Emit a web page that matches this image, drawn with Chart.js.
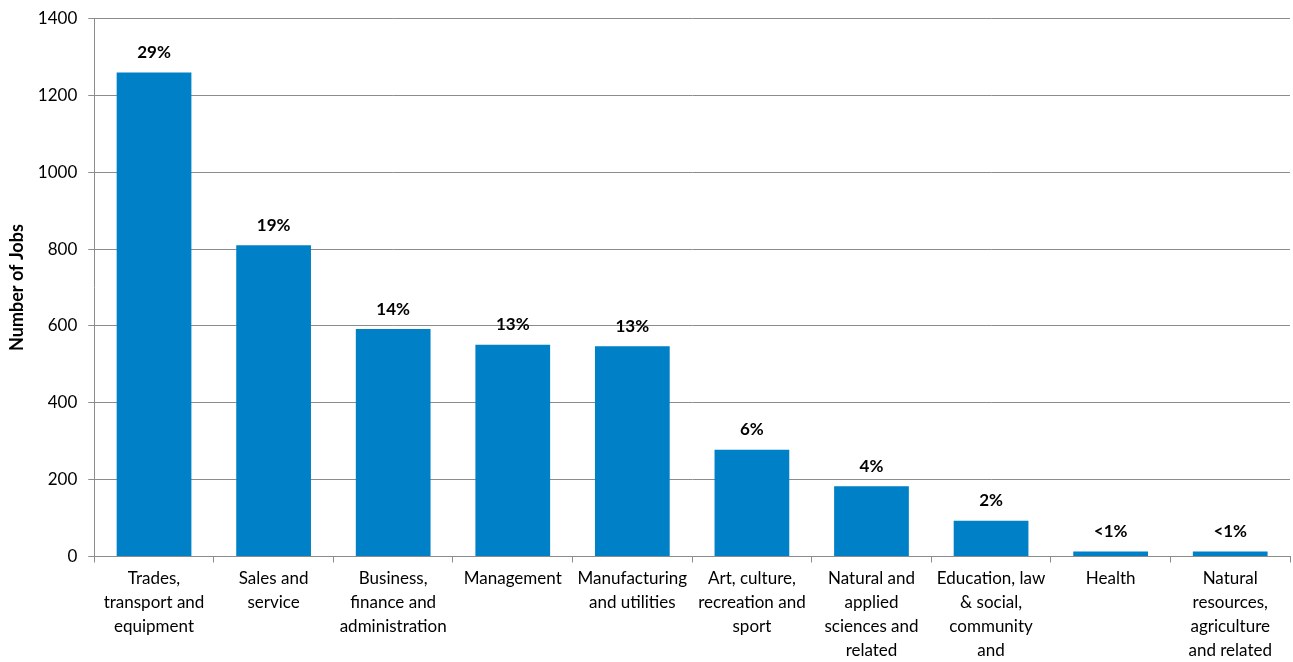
<!DOCTYPE html>
<html>
<head>
<meta charset="utf-8">
<script src="https://cdn.jsdelivr.net/npm/chart.js@4/dist/chart.umd.min.js"></script>
<style>
  html, body { margin: 0; padding: 0; background: #fff; }
  #wrap { width: 1293px; height: 662px; }
</style>
</head>
<body>
<div id="wrap"><canvas id="jobsChart" width="1293" height="662"></canvas></div>
<script>
// Jobs by occupation group
const occupations = [
    ['Trades,', 'transport and', 'equipment'],
    ['Sales and', 'service'],
    ['Business,', 'finance and', 'administration'],
    ['Management'],
    ['Manufacturing', 'and utilities'],
    ['Art, culture,', 'recreation and', 'sport'],
    ['Natural and', 'applied', 'sciences and', 'related'],
    ['Education, law', '& social,', 'community', 'and'],
    ['Health'],
    ['Natural', 'resources,', 'agriculture', 'and related']
];
const jobCounts = [1260, 810, 592, 551, 547, 278, 183, 93, 13, 13];
const shareLabels = ['29%', '19%', '14%', '13%', '13%', '6%', '4%', '2%', '<1%', '<1%'];
const yTicks = [0, 200, 400, 600, 800, 1000, 1200, 1400];

const FONT = 'Lato, "Open Sans", sans-serif';
const GRID = '#8c8c8c';

// percent text above each bar
const shareLabelPlugin = {
    id: 'shareLabels',
    afterDatasetsDraw(chart) {
        const ctx = chart.ctx;
        const meta = chart.getDatasetMeta(0);
        ctx.save();
        ctx.font = 'bold 17px ' + FONT;
        ctx.fillStyle = '#000';
        ctx.textAlign = 'center';
        ctx.textBaseline = 'middle';
        meta.data.forEach((bar, i) => {
            ctx.fillText(shareLabels[i], bar.x, bar.y - 20);
        });
        ctx.restore();
    }
};

new Chart(document.getElementById('jobsChart'), {
    type: 'bar',
    data: {
        labels: occupations,
        datasets: [{
            data: jobCounts,
            backgroundColor: '#0080c6',
            borderWidth: 0,
            categoryPercentage: 1,
            barPercentage: 0.625
        }]
    },
    options: {
        responsive: false,
        animation: false,
        layout: { padding: { top: 0, right: 3, left: 5, bottom: -5 } },
        plugins: {
            legend: { display: false },
            tooltip: { enabled: false }
        },
        scales: {
            x: {
                offset: true,
                grid: {
                    offset: true,
                    drawOnChartArea: false,
                    tickLength: 6,
                    color: GRID
                },
                border: { color: GRID },
                ticks: {
                    color: '#000',
                    font: { family: FONT, size: 17, lineHeight: 1.42 },
                    maxRotation: 0,
                    autoSkip: false,
                    padding: 4
                }
            },
            y: {
                min: 0,
                max: 1400,
                afterBuildTicks: axis => { axis.ticks = yTicks.map(v => ({ value: v })); },
                grid: { color: GRID, tickLength: 6 },
                border: { color: GRID },
                ticks: {
                    color: '#000',
                    font: { family: FONT, size: 17, lineHeight: 0.9 },
                    padding: 11,
                    callback: v => String(v)
                },
                title: {
                    display: true,
                    text: 'Number of Jobs',
                    color: '#000',
                    font: { family: FONT, size: 18, weight: 'bold', lineHeight: 1.1 },
                    padding: { top: 2, bottom: 0 }
                }
            }
        }
    },
    plugins: [shareLabelPlugin]
});
</script>
</body>
</html>
